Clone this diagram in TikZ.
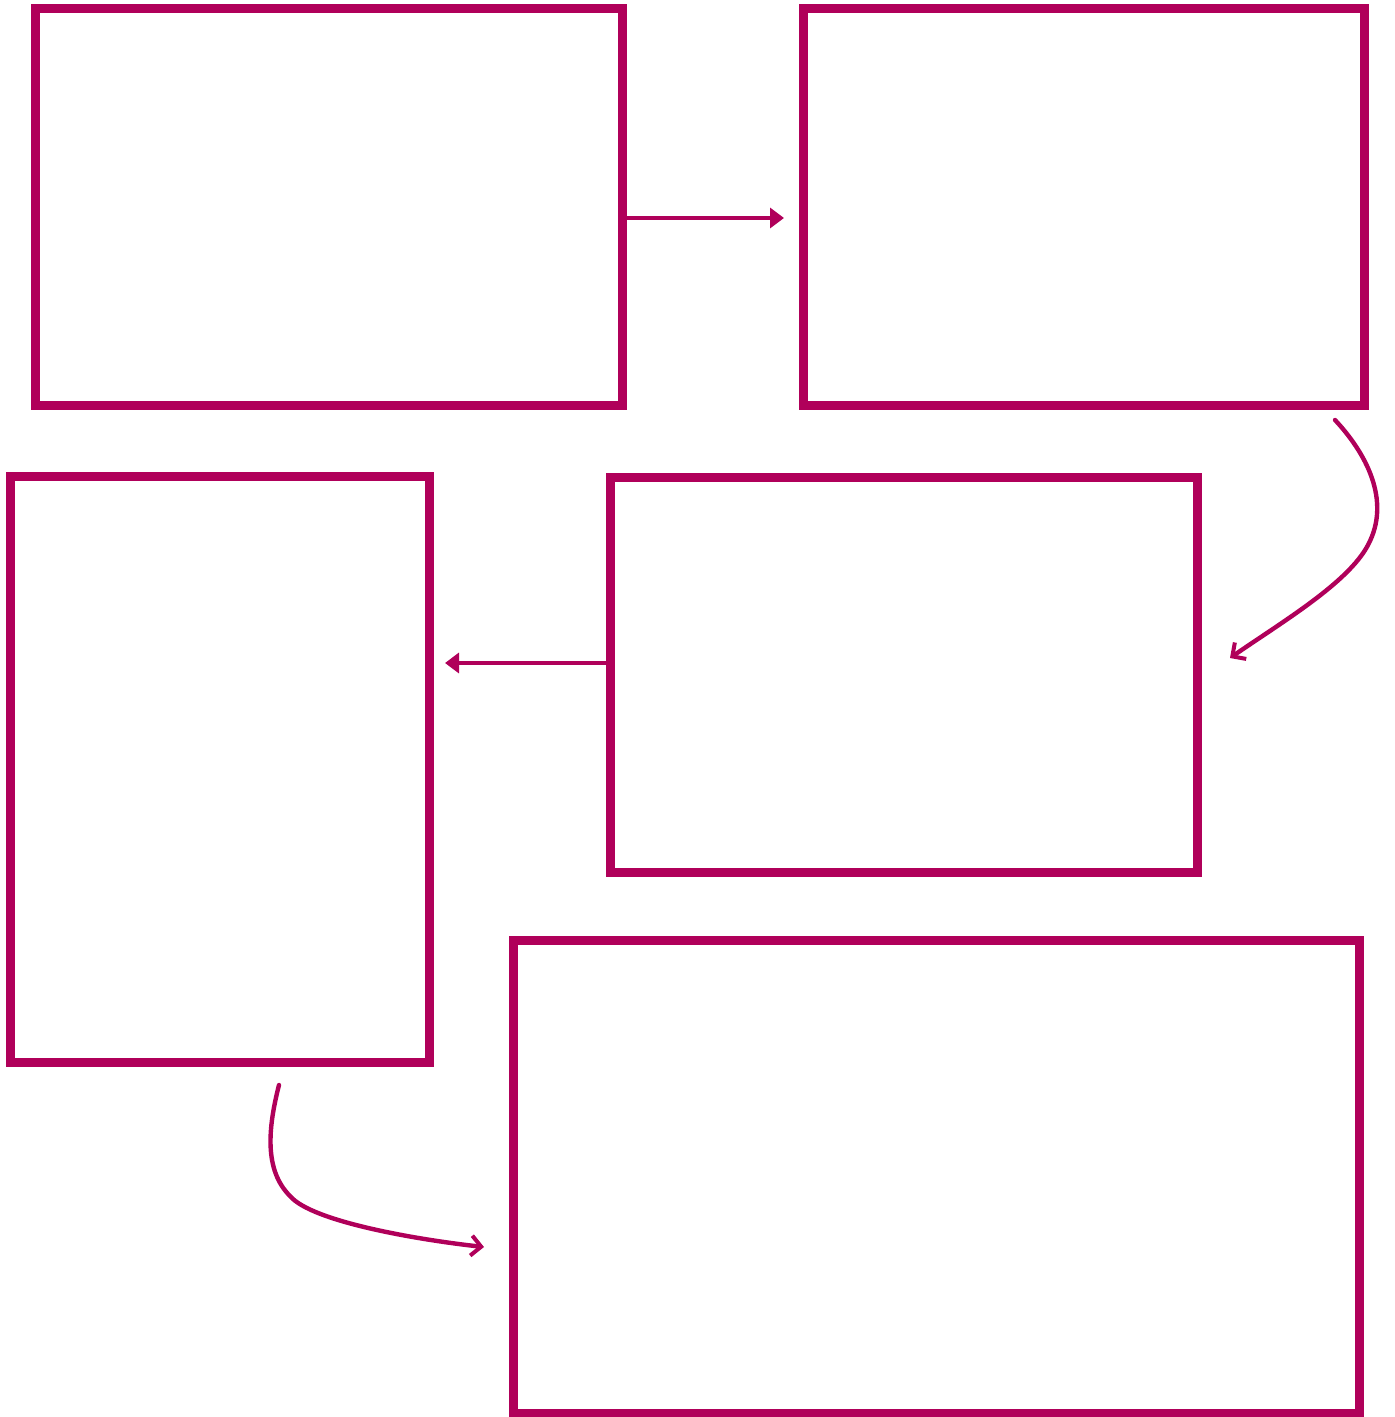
\documentclass[tikz,border=0pt]{standalone}
\usetikzlibrary{arrows.meta}
\definecolor{mag}{RGB}{176,0,90}
\begin{document}
\begin{tikzpicture}[x=0.5pt,y=-0.5pt,
  box/.style={draw=mag,line width=4.5pt,rectangle,inner sep=0pt,outer sep=0pt},
  sarrow/.style={draw=mag,line width=2pt,-{Triangle[length=7pt,width=10pt]}},
  carrow/.style={draw=mag,line width=2.2pt,line cap=round,-{Straight Barb[length=5pt,width=10pt,line width=2pt]}}]
\useasboundingbox (0,0) rectangle (1394,1417);
\node[box,minimum width=293.5pt,minimum height=198.25pt] (b1) at (328.5,206.75) {};
\node[box,minimum width=280.5pt,minimum height=198pt] (b2) at (1083.5,207) {};
\node[box,minimum width=209.5pt,minimum height=293pt] (b3) at (219.5,769) {};
\node[box,minimum width=293.5pt,minimum height=197.5pt] (b4) at (903.5,674.5) {};
\node[box,minimum width=423pt,minimum height=236.5pt] (b5) at (936,1176.5) {};
\coordinate (a1) at (784,218);
\coordinate (a3) at (445,663);
\coordinate (c2s) at (1335,420);
\coordinate (c2e) at (1230,658);
\coordinate (c4s) at (279,1085);
\coordinate (c4e) at (484,1247);
\draw[sarrow] (b1.east |- a1) -- (a1);
\draw[sarrow] (b4.west |- a3) -- (a3);
\draw[carrow] (c2s) .. controls (1365,452) and (1392,500) .. (1368,545) .. controls (1348,583) and (1282,622) .. (c2e);
\draw[carrow] (c4s) .. controls (268,1128) and (264,1170) .. (290,1196) .. controls (312,1222) and (420,1240) .. (c4e);
\end{tikzpicture}
\end{document}
